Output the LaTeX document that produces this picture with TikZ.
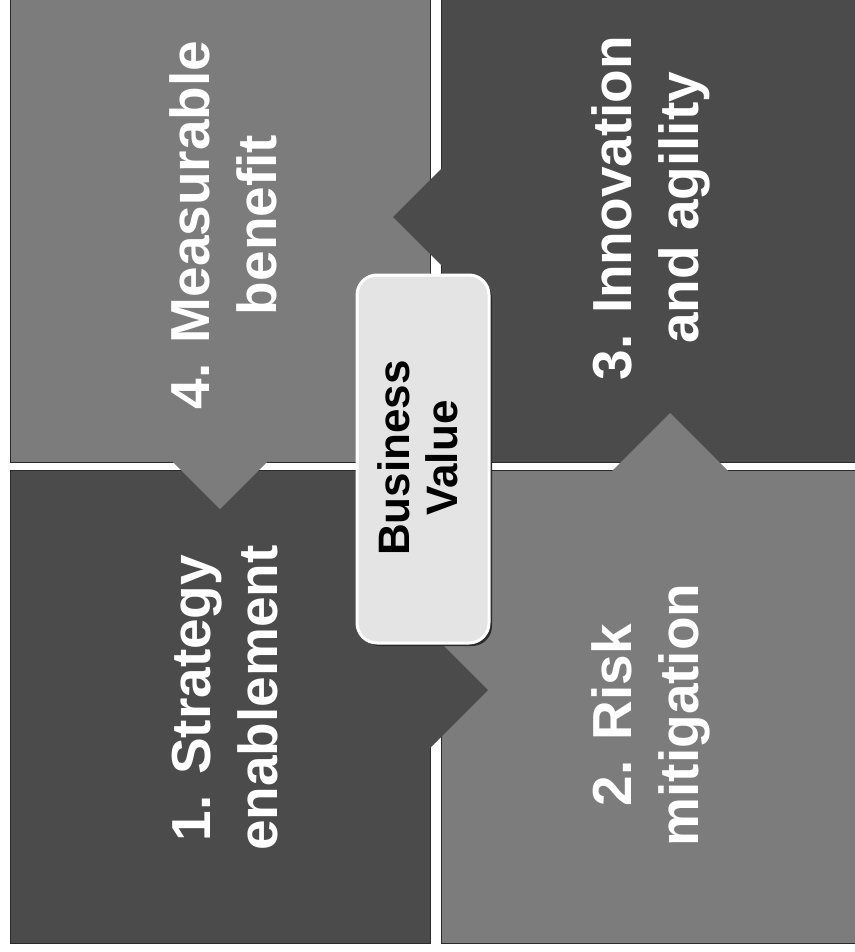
\documentclass[tikz,border=0pt]{standalone}
\usepackage{fontspec}
\setmainfont{Liberation Sans}
\definecolor{qmed}{HTML}{7C7C7C}
\definecolor{qdark}{HTML}{4B4B4B}
\definecolor{boxfill}{HTML}{E4E4E4}
\definecolor{edge}{HTML}{2A2A2A}
\begin{document}
\begin{tikzpicture}[x=1pt,y=-1pt,
  quad/.style={draw=edge, line width=1pt},
  notch/.style={draw=none},
  qlabel/.style={rotate=90, align=center, inner sep=0pt, text=white,
    font=\fontsize{55}{67}\selectfont\bfseries},
  bvlabel/.style={rotate=90, align=center, inner sep=0pt, text=black,
    font=\fontsize{44}{48}\selectfont\bfseries},
  bvbox/.style={rounded corners=20pt, fill=boxfill, draw=white, line width=3pt},
  bvshadow/.style={rounded corners=20pt, fill=edge}]
\useasboundingbox (0,0) rectangle (854,952);
\fill[white] (0,0) rectangle (854,952);
% quadrants
\path[quad, fill=qmed]  (10,-2)  rectangle (430,462);
\path[quad, fill=qdark] (441,-2) rectangle (856,462);
\path[quad, fill=qdark] (10,470) rectangle (430,943);
\path[quad, fill=qmed]  (441,470) rectangle (856,943);
% notches (arrow heads pushing into the next quadrant)
\fill[qdark] (443,167) -- (393,217) -- (443,267) -- cycle;
\fill[qmed]  (171,460) -- (220,509) -- (269,460) -- cycle;
\fill[qdark] (428,630) -- (488,690) -- (428,750) -- cycle;
\fill[qmed]  (611,472) -- (670,413) -- (729,472) -- cycle;
% labels
\node[qlabel] (q4) at (223.5,225) {4. Measurable\\benefit};
\node[qlabel] (q3) at (651,208) {3. Innovation\\and agility};
\node[qlabel] (q1) at (225.5,698) {1. Strategy\\enablement};
\node[qlabel] (q2) at (651,715) {2. Risk\\mitigation};
% centre box
\path[bvshadow] (360,278) rectangle (492,646);
\path[bvbox] (357,275) rectangle (489,643);
\node[bvlabel] (bv) at (418,458) {Business\\Value};
\end{tikzpicture}
\end{document}
